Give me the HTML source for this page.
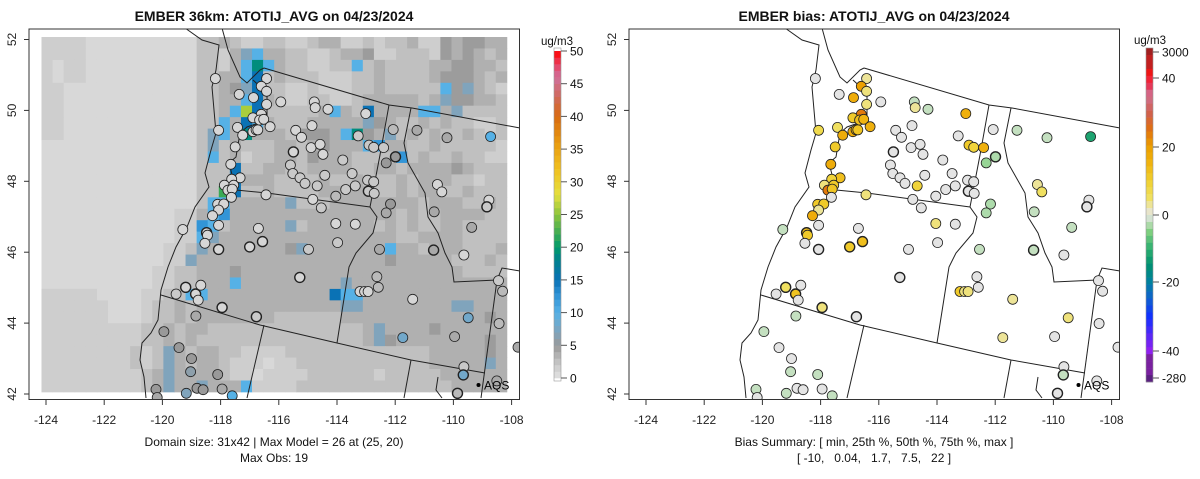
<!DOCTYPE html>
<html><head><meta charset="utf-8">
<style>
html,body{margin:0;padding:0;background:#fff;}
svg{display:block;font-family:"Liberation Sans",Arial,sans-serif;}
text{white-space:pre;}
</style></head>
<body>
<svg id="fig" width="1200" height="479" viewBox="0 0 1200 479" xmlns="http://www.w3.org/2000/svg">
<g id="left"></g>
<g id="right" transform="translate(600,0)"></g>
</svg>
<script>
// ---------- data ----------
const siteLon = [-118.18,-117.36,-116.42,-116.6,-116.42,-116.87,-116.42,-115.93,-114.78,-114.75,-114.31,-113.01,-116.6,-116.89,-116.66,-116.52,-116.3,-117.42,-118.07,-117.24,-116.89,-116.78,-116.72,-117.5,-115.42,-115.22,-114.86,-114.89,-114.58,-114.48,-115.5,-113.27,-112.9,-112.74,-112.4,-112.07,-111.99,-112.31,-111.25,-110.22,-108.72,-117.65,-115.6,-115.52,-115.27,-115.1,-114.42,-114.68,-113.8,-113.48,-113.37,-113.7,-112.95,-112.74,-112.92,-112.72,-117.33,-117.62,-117.87,-117.55,-117.75,-117.6,-117.63,-116.44,-114.83,-114.54,-114.04,-112.16,-112.31,-110.55,-110.4,-108.78,-108.85,-110.66,-109.37,-118.1,-117.89,-118.07,-118.28,-118.07,-119.3,-118.48,-118.45,-118.54,-118.07,-117.0,-116.7,-116.56,-114.98,-114.04,-113.37,-113.98,-112.54,-110.68,-109.64,-115.28,-112.63,-112.58,-113.21,-113.05,-112.93,-119.2,-119.53,-118.68,-118.86,-118.77,-117.95,-118.85,-116.77,-111.4,-109.49,-108.45,-108.31,-108.43,-109.96,-111.74,-107.78,-119.95,-119.43,-119.0,-119.03,-118.1,-118.81,-118.6,-117.95,-120.22,-119.18,-117.6,-120.18,-109.64,-109.66,-109.86,-108.51];
const siteLat = [50.9,50.45,50.9,50.68,50.54,50.36,50.17,50.24,50.24,50.08,50.03,49.91,49.89,49.79,49.73,49.75,49.54,49.52,49.44,49.3,49.4,49.45,49.45,48.97,49.44,49.24,49.57,48.95,49.04,48.76,48.83,49.28,49.02,48.96,48.95,49.46,48.69,48.52,49.44,49.23,49.26,48.48,48.46,48.22,48.1,47.94,48.17,47.87,48.6,48.22,47.87,47.77,48.03,47.99,47.72,47.66,48.1,48.06,47.89,47.89,47.75,47.78,47.55,47.62,47.49,47.25,47.58,47.36,47.11,47.91,47.7,47.47,47.28,47.14,46.7,47.35,47.36,47.19,47.03,46.76,46.64,46.55,46.48,46.25,46.08,46.15,46.67,46.3,46.08,46.81,46.79,46.27,46.08,46.06,45.92,45.29,45.31,45.01,44.89,44.89,44.89,45.01,44.82,45.07,44.82,44.65,44.44,44.2,44.18,44.67,44.15,45.2,44.9,43.99,43.62,43.59,43.32,43.76,43.31,43.0,42.63,42.55,42.16,42.12,42.14,42.13,42.02,41.95,41.9,42.77,42.54,42.02,42.37];
const siteObs = [1,1,1,1,1,1,1,1,1,1,1,1,1,1,1,1,1,1,1,1,1,1,1,1,1,1,1,1,1,1,1,2,2,2,2,3,5,5,4,4,10,1,2,2,2,2,2,2,2,2,2,2,2,2,2,2,1,1,1,1,1,1,1,1,1,2,3,5,4,1,1,1,2,4,4,1,1,1,1,1,1,1,1,1,1,1,1,1,2,1,1,2,4,4,1,1,3,3,1,1,1,1,2,1,1,1,1,4,2,1,8,2,3,3,4,8,4,5,5,5,6,5,5,5,4,5,7,10,4,2,8,3,4];
const siteBias = [0,0,3,20,4,17,4,0,-2,3,-2,16,24,11,13,15,16,5,7,17,17,15,12,11,0,0,0,0,0,0,0,0,11,9,16,0,-3,-4,-2,-2,-12,17,0,0,0,0,0,9,0,0,0,0,0,0,0,0,13,9,4,11,24,12,0,4,0,0,0,-3,-3,3,5,0,0,-2,-2,11,11,3,17,0,-2,13,11,0,0,11,0,13,0,4,0,0,-2,-2,0,0,0,0,11,4,4,5,0,0,12,0,4,-2,0,3,4,0,0,0,0,3,0,-2,0,0,-2,-2,0,0,0,-2,-2,-2,0,0,-2,0,0];
const thickBorder = [30,36,54,72,81,84,85,87,93,95,101,104,106,108,130,131];
const latTicks = [42,44,46,48,50,52];
const lonTicks = [-124,-122,-120,-118,-116,-114,-112,-110,-108];
const obsBarTicks = [0,5,10,15,20,25,30,35,40,45,50];
const biasBarTicks = ["3000","40","20","0","-20","-40","-280"];
const biasBarTickVals = [3000,40,20,0,-20,-40,-280];
// model grid rows (31 rows x 42 cols), code letters = concentration levels
const gridRows = [
"22221111111111"+"3343223322344223233422545544",
"22221111111111"+"3324gh4433223445223332545434",
"21221111111111"+"3324hkh4332233h3433334455443",
"21221111111111"+"3344hj3433322233433334555434",
"22111111111111"+"3345gj3322322233433333h5g432",
"22111111111111"+"3344hj4322332234444434g55443",
"22111111111111"+"334hmj333334h43j4444hh4g3333",
"22111111111111"+"33h4jh433344444g543343433223",
"22111111111111"+"3gh4k44435554hk54g3434334323",
"11111111111111"+"3g3433344345444hi44334333332",
"11111111111111"+"3h3423344354443333i343343322",
"11111111111111"+"333j33443344443344344445433",
"11111111111111"+"333j44433334334333434443323",
"11111111111111"+"33lj33433334444433434433433",
"11111111111111"+"3hh44444g3334444444434443343",
"11111111111122"+"4hi4444444444444443433444433",
"11111111111122"+"ih344444g34444443434334433",
"11111111111122"+"hg444444444444444433444433",
"11111111111223"+"g44444445g4444444h4434443334",
"1111111111122g"+"444444444444444445444443334",
"11111111112233"+"4445444444444444444444443333",
"11111111112233"+"444h444444444g44444444444444",
"2222211112233h"+"h44444444444jhh4444444444444",
"22222211123343"+"4444444444444gg44444444gg444",
"22222211123343"+"4444444333333444444444444454",
"22222222233434"+"4333333333333334g44445444444",
"22222222233434"+"3333333333333334g54444444454",
"22222222323g43"+"4433222233333333333334444454",
"22222222323g43"+"44322212233333333333344444g4",
"22222222234g44"+"4432212222333333233333444444",
"22222222234g44"+"g444h222233333333333333444444"
];
const codeVal = {"1":0.8,"2":1.6,"3":2.6,"4":3.6,"5":4.8,"g":7,"h":10,"i":12.5,"j":15,"k":19,"l":22,"m":26};

// ---------- geometry ----------
const X0=46, PXDEG=29.1, Y0=39.5, PYDEG=35.45;
function px(lon){return X0+(lon+124)*PXDEG;}
function py(lat){return Y0+(52-lat)*PYDEG;}
const GX0=41.5, GY0=37, GW=11.08, GH=11.45;
const NS="http://www.w3.org/2000/svg";
function mk(tag,attrs,parent){const e=document.createElementNS(NS,tag);for(const k in attrs)e.setAttribute(k,attrs[k]);if(parent)parent.appendChild(e);return e;}

const obsStops=[[0,"#e2e2e2"],[1,"#d6d6d6"],[2,"#c9c9c9"],[3,"#bababa"],[4,"#a9a9a9"],[5,"#999999"],[7,"#80a4bc"],[10,"#56b1e6"],[13,"#2b8fd4"],[15,"#0a72b5"],[18,"#00808f"],[20,"#009a6a"],[22,"#3aaa55"],[25,"#8cc43c"],[28,"#e4e040"],[32,"#f0c020"],[36,"#e89a10"],[40,"#d86a10"],[43,"#d06a5c"],[46,"#d0709c"],[48,"#e84060"],[50,"#ff0000"]];
const biasStops=[[-280,"#5a2080"],[-45,"#7a20a0"],[-40,"#9020f0"],[-30,"#1030ff"],[-25,"#1060d0"],[-20,"#0080a0"],[-15,"#009070"],[-10,"#30b070"],[-5,"#80d080"],[-2,"#c4e0c0"],[0,"#e4e4e4"],[2,"#ece6b4"],[5,"#f0e060"],[10,"#f0d030"],[15,"#f0b410"],[20,"#eca000"],[25,"#e07010"],[30,"#d06050"],[35,"#d07090"],[38,"#e83050"],[42,"#ff1010"],[50,"#c02020"],[3000,"#a02020"]];
function hex2(c){return [1,3,5].map(i=>parseInt(c.substr(i,2),16));}
function interp(stops,v){
  if(v<=stops[0][0])return stops[0][1];
  for(let i=1;i<stops.length;i++){if(v<=stops[i][0]){const a=stops[i-1],b=stops[i];const t=(v-a[0])/(b[0]-a[0]);const ca=hex2(a[1]),cb=hex2(b[1]);return "rgb("+ca.map((x,j)=>Math.round(x+(cb[j]-x)*t)).join(",")+")";}}
  return stops[stops.length-1][1];
}

const basemap=[
 [[264,68],[389,105],[412,108],[520,128]],
 [[389,105],[380,155],[370,207],[377,217],[373,233],[356,253],[349,267],[337,343]],
 [[411,108],[404,143],[408,163],[425,193],[428,217],[438,233],[445,253],[452,267],[454,282],[497,280],[502,268],[520,271]],
 [[497,280],[481,398]],
 [[236,190],[267,193],[370,207]],
 [[161,295],[260,325],[337,343],[411,360],[485,373]],
 [[264,325],[247,398]],
 [[411,360],[404,398]],
 [[185,28],[202,40],[219,45],[216,70],[212,87],[216,133],[211,150],[205,173],[209,187],[195,207],[187,227],[176,247],[168,267],[161,290],[158,320],[151,333],[142,343],[140,360],[144,377],[146,398]],
 [[222,28],[228,50],[240,77],[247,83],[260,70],[264,68]],
 [[253,80],[267,93],[267,120],[247,127],[240,133],[236,157],[229,163],[236,190]],
 [[438,377],[436,390],[442,398]]
];

function drawPanel(g, mode){
  mk("rect",{x:29,y:29,width:490,height:370,fill:"#fff",stroke:"none"},g);
  if(mode==="obs"){
    const grid=mk("g",{},g);
    
    
    gridRows.forEach((row0,r)=>{
      const row=(row0+"3333333333").slice(0,42);
      for(let c=0;c<42;c++){
        const ch=row[c];
        const cell=mk("rect",{x:(GX0+c*GW).toFixed(2),y:(GY0+r*GH).toFixed(2),width:(GW+0.4).toFixed(2),height:(GH+0.4).toFixed(2),fill:interp(obsStops,codeVal[ch]||2.6)},grid);
        
        
      }
    });
  }
  const bm=mk("g",{fill:"none",stroke:"#222","stroke-width":1},g);
  
  
  basemap.forEach(p=>{const pl=mk("polyline",{points:p.map(q=>q.join(",")).join(" ")},bm);
    
    });
  const sg=mk("g",{},g);
  
  
  for(let i=0;i<siteLon.length;i++){
    const v= mode==="obs"?siteObs[i]:siteBias[i];
    const col= mode==="obs"?interp(obsStops,v):interp(biasStops,v);
    const cx=px(siteLon[i]), cy=py(siteLat[i]);
    if(cx>521||cy>401)continue;
    const c=mk("circle",{cx:cx.toFixed(1),cy:cy.toFixed(1),r:5,fill:col,stroke:"#222","stroke-width":thickBorder.includes(i)?1.4:0.8},sg);
    
    
  }
  const aq=mk("circle",{cx:478.5,cy:385,r:2,fill:"#000"},g);
  
  
  const at=mk("text",{x:484,y:389.5,"font-size":12,fill:"#000"},g);at.textContent="AQS";
  
  
  mk("rect",{x:0,y:399.5,width:600,height:80,fill:"#fff"},g);
  mk("rect",{x:519.5,y:0,width:80,height:400,fill:"#fff"},g);
  mk("rect",{x:0,y:0,width:600,height:28.5,fill:"#fff"},g);
  const box=mk("rect",{x:29,y:29,width:490.5,height:370.5,fill:"none",stroke:"#333","stroke-width":1},g);
  
  
  const xa=mk("g",{},g);
  
  
  mk("line",{x1:px(-124),x2:px(-108),y1:399.5,y2:399.5,stroke:"#333"},xa);
  lonTicks.forEach(t=>{const x=px(t);mk("line",{x1:x,x2:x,y1:399.5,y2:405,stroke:"#333"},xa);
    const tx=mk("text",{x:x,y:424,"font-size":12,"text-anchor":"middle",fill:"#222"},xa);tx.textContent=t;
    
    });
  const ya=mk("g",{},g);
  
  
  latTicks.forEach(t=>{const y=py(t);mk("line",{x1:24,x2:29,y1:y,y2:y,stroke:"#333"},ya);
    const tx=mk("text",{x:0,y:0,"font-size":12,"text-anchor":"middle",fill:"#222",transform:"translate(16,"+y+") rotate(-90)"},ya);tx.textContent=t;
    
    });
}

const L=document.getElementById("left"), R=document.getElementById("right");
drawPanel(L,"obs");
drawPanel(R,"bias");

function txt(parent,x,y,s,size,weight,name,anchor){const t=mk("text",{x:x,y:y,"font-size":size,"font-weight":weight||"normal","text-anchor":anchor||"middle",fill:"#111"},parent);t.textContent=s;
  
  return t;}
txt(L,274,21,"EMBER 36km: ATOTIJ_AVG on 04/23/2024",14,"bold","chart-title");
txt(L,274,446,"Domain size: 31x42 | Max Model = 26 at (25, 20)",12,"normal","domain-summary");
txt(L,274,462,"Max Obs: 19",12,"normal","max-obs-summary");
txt(R,274,21,"EMBER bias: ATOTIJ_AVG on 04/23/2024",14,"bold","chart-title");
txt(R,274,446,"Bias Summary: [ min, 25th %, 50th %, 75th %, max ]",12,"normal","bias-summary-header");
txt(R,274,462,"[ -10,   0.04,   1.7,   7.5,   22 ]",12,"normal","bias-summary-values");

(function(){
  const g=mk("g",{},L);
  
  
  const yTop=51, yBot=378, x=554, w=7;
  const n=50, h=(yBot-yTop)/n;
  for(let i=0;i<n;i++){mk("rect",{x:x,y:(yBot-(i+1)*h).toFixed(2),width:w,height:(h+0.3).toFixed(2),fill:interp(obsStops,i+0.5)},g);}
  mk("rect",{x:x,y:yTop-3,width:w,height:yBot-yTop+6,fill:"none",stroke:"#999","stroke-width":0.6},g);
  obsBarTicks.forEach(t=>{const y=yBot-(t/50)*(yBot-yTop);mk("line",{x1:x+w,x2:x+w+6,y1:y,y2:y,stroke:"#555"},g);
    txt(g,x+w+9,y+4.5,String(t),12,"normal","colorbar-tick-label","start");});
  txt(g,557,45,"ug/m3",11.5,"normal","colorbar-units");
})();
(function(){
  const g=mk("g",{},R);
  
  
  const tickY=[52,78,147,215,282,351,378];
  const x=546, w=7, yTop=48, yBot=382;
  function valAt(y){
    if(y<=tickY[0])return 3000;
    for(let i=1;i<tickY.length;i++){if(y<=tickY[i]){const t=(y-tickY[i-1])/(tickY[i]-tickY[i-1]);
      if(i===1)return 60-(60-40)*t; if(i===tickY.length-1)return -40-(20)*t;
      return biasBarTickVals[i-1]+(biasBarTickVals[i]-biasBarTickVals[i-1])*t;}}
    return -280;
  }
  const n=48,h=(yBot-yTop)/n;
  for(let i=0;i<n;i++){const yc=yTop+(i+0.5)*h;mk("rect",{x:x,y:(yTop+i*h).toFixed(2),width:w,height:(h+0.3).toFixed(2),fill:interp(biasStops,valAt(yc))},g);}
  mk("rect",{x:x,y:yTop,width:w,height:yBot-yTop,fill:"none",stroke:"#999","stroke-width":0.6},g);
  biasBarTicks.forEach((t,i)=>{const y=tickY[i];mk("line",{x1:x+w,x2:x+w+6,y1:y,y2:y,stroke:"#555"},g);
    txt(g,x+w+9,y+4.5,t,12,"normal","colorbar-tick-label","start");});
  txt(g,550,44,"ug/m3",11.5,"normal","colorbar-units");
})();
</script>
</body></html>
